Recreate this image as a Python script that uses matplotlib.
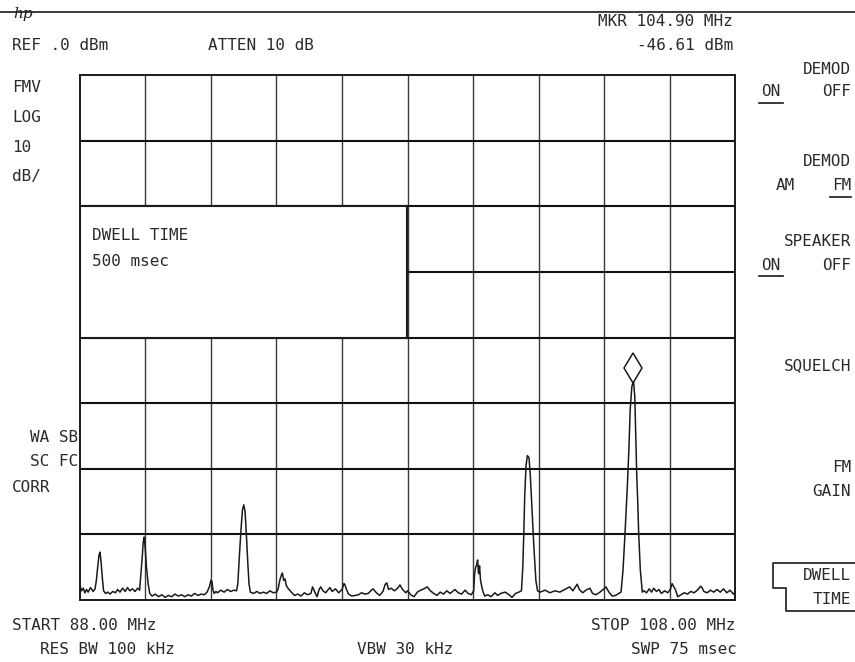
import matplotlib
matplotlib.use("Agg")
import matplotlib.pyplot as plt
from matplotlib.patches import Rectangle
from matplotlib.transforms import offset_copy

# ---------------- data ----------------
start_mhz = 88.00
stop_mhz = 108.00
ref_dbm = 0.0
db_per_div = 10
n_xdiv = 10
n_ydiv = 8

mkr_mhz = 104.90
mkr_dbm = -46.61

trace_mhz = [
    88.00, 88.05, 88.10, 88.15, 88.20, 88.25, 88.32, 88.40, 88.46, 88.50,
    88.54, 88.58, 88.61, 88.64, 88.68, 88.72, 88.78, 88.85, 88.92, 89.00,
    89.08, 89.15, 89.22, 89.30, 89.38, 89.45, 89.52, 89.60, 89.68, 89.76,
    89.82, 89.86, 89.90, 89.93, 89.96, 89.99, 90.03, 90.08, 90.13, 90.20,
    90.30, 90.40, 90.50, 90.60, 90.70, 90.80, 90.90, 91.00, 91.10, 91.20,
    91.30, 91.40, 91.50, 91.60, 91.70, 91.80, 91.88, 91.95, 92.00, 92.03,
    92.06, 92.10, 92.15, 92.20, 92.30, 92.40, 92.50, 92.60, 92.70, 92.78,
    92.82, 92.87, 92.92, 92.96, 93.00, 93.04, 93.08, 93.12, 93.16, 93.20,
    93.30, 93.40, 93.50, 93.60, 93.70, 93.80, 93.90, 94.00, 94.05, 94.10,
    94.15, 94.18, 94.22, 94.26, 94.30, 94.35, 94.45, 94.55, 94.65, 94.75,
    94.85, 94.95, 95.05, 95.10, 95.17, 95.24, 95.30, 95.35, 95.42, 95.50,
    95.58, 95.63, 95.70, 95.80, 95.90, 96.00, 96.06, 96.09, 96.13, 96.20,
    96.30, 96.40, 96.50, 96.60, 96.70, 96.80, 96.90, 96.95, 97.05, 97.15,
    97.25, 97.32, 97.37, 97.42, 97.50, 97.60, 97.70, 97.77, 97.85, 97.95,
    98.00, 98.10, 98.20, 98.30, 98.40, 98.50, 98.60, 98.70, 98.80, 98.90,
    99.00, 99.10, 99.20, 99.30, 99.45, 99.55, 99.65, 99.76, 99.85, 99.95,
    100.02, 100.05, 100.08, 100.11, 100.14, 100.17, 100.20, 100.23, 100.27, 100.31,
    100.36, 100.45, 100.55, 100.67, 100.75, 100.85, 100.98, 101.10, 101.19, 101.30,
    101.40, 101.48, 101.52, 101.55, 101.58, 101.62, 101.66, 101.71, 101.75, 101.80,
    101.86, 101.92, 101.97, 102.05, 102.20, 102.35, 102.50, 102.65, 102.80, 102.95,
    103.05, 103.18, 103.25, 103.35, 103.45, 103.57, 103.65, 103.75, 103.85, 103.95,
    104.06, 104.15, 104.25, 104.35, 104.45, 104.52, 104.58, 104.64, 104.71, 104.76,
    104.80, 104.85, 104.90, 104.94, 104.97, 105.00, 105.03, 105.06, 105.11, 105.17,
    105.22, 105.30, 105.38, 105.45, 105.52, 105.60, 105.68, 105.75, 105.85, 105.95,
    106.03, 106.08, 106.12, 106.18, 106.25, 106.35, 106.45, 106.55, 106.65, 106.75,
    106.85, 106.95, 106.99, 107.05, 107.15, 107.25, 107.35, 107.45, 107.55, 107.65,
    107.75, 107.85, 107.95, 108.00,
]
trace_dbm = [
    -77.8, -78.6, -78.2, -78.9, -78.4, -78.8, -78.1, -78.7, -78.3, -77.0,
    -75.0, -73.2, -72.7, -74.0, -76.5, -78.6, -79.0, -78.8, -79.1, -78.7,
    -78.9, -78.4, -78.8, -78.2, -78.7, -78.1, -78.6, -78.3, -78.7, -78.2,
    -78.5, -76.0, -73.5, -71.2, -70.4, -72.0, -75.0, -77.5, -79.0, -79.4,
    -79.1, -79.5, -79.2, -79.6, -79.3, -79.5, -79.1, -79.4, -79.2, -79.5,
    -79.2, -79.4, -79.0, -79.3, -79.1, -79.2, -78.8, -78.0, -77.0, -77.2,
    -78.5, -79.0, -78.7, -78.9, -78.5, -78.8, -78.4, -78.7, -78.5, -78.6,
    -77.5, -73.0, -69.0, -66.3, -65.5, -66.5, -70.0, -74.0, -77.5, -78.8,
    -79.0, -78.7, -79.0, -78.8, -79.0, -78.6, -78.9, -78.8, -78.3, -77.0,
    -76.2, -75.9, -77.0, -76.8, -77.8, -78.2, -78.8, -79.3, -79.1, -79.4,
    -78.9, -79.2, -79.0, -78.0, -78.8, -79.5, -78.4, -78.0, -78.6, -78.9,
    -78.4, -78.1, -78.7, -78.3, -78.9, -78.4, -77.5, -77.7, -78.3, -79.1,
    -79.4, -79.3, -79.2, -78.9, -79.1, -79.0, -78.5, -78.3, -78.9, -79.3,
    -78.7, -77.6, -77.4, -78.4, -78.2, -78.6, -78.2, -77.7, -78.4, -78.9,
    -78.6, -79.2, -79.5, -78.8, -78.5, -78.3, -78.0, -78.6, -79.0, -79.3,
    -78.8, -79.1, -78.6, -79.0, -78.4, -78.9, -79.1, -78.5, -79.0, -79.2,
    -78.6, -76.0, -75.0, -74.7, -73.9, -76.0, -74.8, -77.0, -78.0, -78.8,
    -79.4, -79.2, -79.5, -78.9, -79.3, -79.0, -78.8, -79.2, -79.6, -79.0,
    -78.8, -78.6, -75.0, -70.0, -64.0, -59.5, -58.0, -58.3, -61.0, -66.0,
    -72.0, -77.0, -78.6, -78.8, -78.5, -78.9, -78.6, -78.8, -78.4, -78.0,
    -78.6, -77.6, -78.4, -78.9, -78.5, -78.2, -79.0, -79.2, -78.9, -78.5,
    -78.0, -78.8, -79.4, -79.3, -79.0, -78.8, -75.5, -70.0, -63.0, -57.0,
    -51.0, -47.5, -46.6, -49.0, -55.0, -61.0, -65.0, -70.0, -75.5, -78.8,
    -78.6, -78.9, -78.3, -78.8, -78.2, -78.7, -78.4, -79.0, -78.6, -78.9,
    -78.3, -77.5, -77.9, -78.4, -79.5, -79.2, -78.9, -79.1, -78.7, -78.9,
    -78.5, -77.9, -78.1, -78.7, -78.9, -78.5, -78.8, -78.4, -78.8, -78.3,
    -78.9, -78.5, -79.1, -78.8,
]

atten_db = 10
res_bw_khz = 100
vbw_khz = 30
swp_msec = 75
dwell_msec = 500

# ---------------- figure ----------------
W, H = 855, 662
fig = plt.figure(figsize=(W / 100, H / 100), dpi=100)
fig.patch.set_facecolor("white")

FONT = "DejaVu Sans Mono"
FS = 11.5
INK = "#1a1a1a"
TXT = "#2a2a2a"

ax = fig.add_axes([80 / W, 1 - 600 / H, 655 / W, 525 / H])
bottom_dbm = ref_dbm - n_ydiv * db_per_div
ax.set_xlim(start_mhz, stop_mhz)
ax.set_ylim(bottom_dbm, ref_dbm)
ax.set_xticks([])
ax.set_yticks([])
for s in ax.spines.values():
    s.set_linewidth(1.4)
    s.set_color(INK)

step = (stop_mhz - start_mhz) / n_xdiv
for i in range(1, n_xdiv):
    ax.axvline(start_mhz + i * step, color="#3a3a3a", lw=1.0, zorder=1)
for j in range(1, n_ydiv):
    ax.axhline(ref_dbm - j * db_per_div, color="#111111", lw=1.5, zorder=1)

# dwell-time message box covering part of the graticule
box_x0 = start_mhz
box_x1 = start_mhz + 5 * step
box_y0 = ref_dbm - 4 * db_per_div
box_y1 = ref_dbm - 2 * db_per_div
ax.add_patch(Rectangle((box_x0, box_y0), box_x1 - box_x0, box_y1 - box_y0,
                       facecolor="white", edgecolor=INK, lw=1.5, zorder=3))

ax.plot(trace_mhz, trace_dbm, color=INK, lw=1.1, zorder=4)

mk_tr = offset_copy(ax.transData, fig=fig, x=0, y=9, units="points")
ax.plot([mkr_mhz], [mkr_dbm], marker="d", markersize=15, mfc="white",
        mec=INK, mew=1.1, transform=mk_tr, zorder=5, clip_on=False)

# overlay in pixel coordinates for annotations
ov = fig.add_axes([0, 0, 1, 1], zorder=10)
ov.set_xlim(0, W)
ov.set_ylim(H, 0)
ov.axis("off")
ov.patch.set_visible(False)


def txt(x, y, s, ha="left"):
    ov.text(x, y, s, ha=ha, va="center", fontsize=FS, family=FONT, color=TXT)


# top rule and hp logo
ov.plot([0, W], [12, 12], color=INK, lw=1.2)
ov.text(13, 14, "hp", ha="left", va="center", fontsize=11, style="italic",
        family="DejaVu Serif", color=INK)

txt(12, 46, f"REF .{int(ref_dbm)} dBm")
txt(208, 46, f"ATTEN {atten_db} dB")
txt(733, 22, f"MKR {mkr_mhz:.2f} MHz", ha="right")
txt(733, 46, f"{mkr_dbm:.2f} dBm", ha="right")

txt(12, 88, "FMV")
txt(12, 118, "LOG")
txt(12, 148, f"{db_per_div}")
txt(12, 176, "dB/")

txt(92, 236, "DWELL TIME")
txt(92, 262, f"{dwell_msec} msec")

txt(78, 437, "WA SB", ha="right")
txt(78, 462, "SC FC", ha="right")
txt(12, 488, "CORR")

txt(12, 626, f"START {start_mhz:.2f} MHz")
txt(40, 650, f"RES BW {res_bw_khz} kHz")
txt(357, 650, f"VBW {vbw_khz} kHz")
txt(735, 626, f"STOP {stop_mhz:.2f} MHz", ha="right")
txt(737, 650, f"SWP {swp_msec} msec", ha="right")

# softkey labels
RX = 851
txt(RX, 69, "DEMOD", ha="right")
txt(761, 92, "ON")
txt(RX, 92, "OFF", ha="right")
ov.plot([759, 783], [103, 103], color=INK, lw=1.2)

txt(RX, 162, "DEMOD", ha="right")
txt(776, 186, "AM")
txt(RX, 186, "FM", ha="right")
ov.plot([830, 851], [197, 197], color=INK, lw=1.2)

txt(RX, 241, "SPEAKER", ha="right")
txt(761, 265, "ON")
txt(RX, 265, "OFF", ha="right")
ov.plot([759, 783], [276, 276], color=INK, lw=1.2)

txt(RX, 366, "SQUELCH", ha="right")
txt(RX, 467, "FM", ha="right")
txt(RX, 491, "GAIN", ha="right")

txt(RX, 576, "DWELL", ha="right")
txt(RX, 600, "TIME", ha="right")
ov.plot([W, 773, 773, 786, 786, W], [563, 563, 588, 588, 611, 611],
        color=INK, lw=1.2)

fig.savefig("out.png", dpi=100, facecolor="white")
